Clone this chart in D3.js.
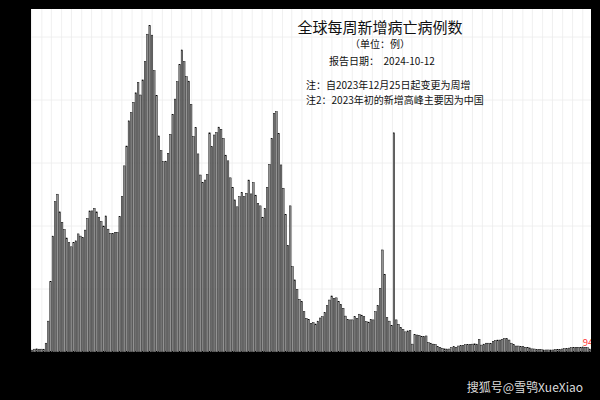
<!DOCTYPE html>
<html>
<head>
<meta charset="utf-8">
<script src="https://cdn.jsdelivr.net/npm/d3@7"></script>
<style>
  html, body { margin: 0; padding: 0; background: #000; }
  svg { display: block; }
  text { font-family: "Noto Sans CJK SC", "Noto Sans", sans-serif; }
</style>
</head>
<body>
<div id="chart"></div>
<script>
// 每周新增死亡数
const weeklyDeaths = [
  600, 900, 1000, 900, 900, 900, 2800, 9800, 22300, 36800,
  47700, 50100, 44500, 41200, 38900, 36200, 34700, 33400, 34800, 35300,
  37500, 36800, 36400, 38700, 42400, 44800, 44800, 45600, 44500, 42800,
  41400, 40000, 43200, 39000, 37700, 37700, 38000, 38000, 43000, 49300,
  59100, 65400, 73400, 76000, 79300, 82300, 85600, 81600, 86400, 92200,
  100900, 103600, 100600, 89300, 81400, 68600, 63900, 60400, 60600, 63100,
  69100, 75500, 80300, 85800, 91300, 95900, 92200, 87400, 86000, 78600,
  68400, 71200, 62900, 56200, 53800, 54600, 56400, 69600, 65200, 68900,
  69700, 71400, 70700, 67800, 62500, 60700, 55300, 52300, 48300, 46100,
  49300, 50700, 49300, 50400, 54600, 50200, 53800, 49800, 47200, 46400,
  42800, 45600, 52300, 59600, 67800, 75800, 76300, 69400, 59400, 52000,
  43700, 33900, 46400, 27100, 22900, 19900, 16700, 16000, 12800, 10700,
  10400, 9100, 9300, 8900, 9800, 10800, 11200, 12500, 14700, 16500,
  17800, 17000, 17200, 16000, 15100, 13900, 11400, 10400, 10200, 10200,
  11200, 10700, 12000, 11700, 11200, 9600, 9500, 10400, 10200, 12800,
  14700, 20200, 32400, 24700, 10900, 9800, 8500, 69600, 10200, 8800,
  7800, 7200, 6400, 6700, 6800, 2500, 5600, 5400, 5300, 4900,
  4900, 5100, 3000, 2800, 2500, 2400, 1700, 1500, 1200, 1000,
  950, 950, 1400, 1700, 1500, 1900, 2100, 2100, 2300, 2300,
  2400, 2500, 2600, 2500, 4000, 2200, 2500, 2800, 2800, 2800,
  3400, 3600, 3800, 3800, 4000, 4300, 4200, 3800, 2800, 2300,
  1900, 1900, 1700, 1700, 1500, 1400, 1300, 1000, 950, 850,
  850, 750, 650, 650, 650, 650, 650, 750, 850, 850,
  950, 1050, 1150, 1250, 1350, 1500, 1500, 1500, 1500, 1600,
  1500, 1350, 948
];
const firstWeek = new Date(2019, 11, 30);
const weekDates = weeklyDeaths.map((_, i) => d3.timeDay.offset(firstWeek, 7 * i));
const yTicks = [20000, 40000, 60000, 80000, 100000];

const titleText = '全球每周新增病亡病例数';
const unitText = '（单位：例）';
const dateText = '报告日期：  2024-10-12';
const noteLines = ['注：自2023年12月25日起变更为周增', '注2：2023年初的新增高峰主要因为中国'];
const watermark = '搜狐号@雪鸮XueXiao';

const width = 600, height = 400;
const margin = { top: 9, right: 9, bottom: 48, left: 31 };
const plotW = width - margin.left - margin.right;
const plotH = height - margin.top - margin.bottom;

const svg = d3.select('#chart').append('svg')
  .attr('width', width)
  .attr('height', height)
  .style('background', '#000');

svg.append('defs').append('clipPath')
  .attr('id', 'plot-clip')
  .append('rect')
  .attr('width', plotW)
  .attr('height', plotH);

const g = svg.append('g').attr('transform', `translate(${margin.left},${margin.top})`);

g.append('rect')
  .attr('width', plotW)
  .attr('height', plotH)
  .attr('fill', '#fff');

const lastDate = d3.timeDay.offset(weekDates[weekDates.length - 1], 7);
const x = d3.scaleTime().domain([firstWeek, lastDate]).range([0, plotW]);
const y = d3.scaleLinear().domain([0, 108900]).range([plotH, 0]);

// 网格：每月竖线，每两万横线
g.append('g')
  .selectAll('line')
  .data(x.ticks(d3.timeMonth.every(1)))
  .join('line')
  .attr('x1', d => x(d)).attr('x2', d => x(d))
  .attr('y1', 0).attr('y2', plotH)
  .attr('stroke', '#ececec')
  .attr('stroke-width', 0.8);

g.append('g')
  .selectAll('line')
  .data(yTicks)
  .join('line')
  .attr('x1', 0).attr('x2', plotW)
  .attr('y1', d => y(d)).attr('y2', d => y(d))
  .attr('stroke', '#ececec')
  .attr('stroke-width', 0.8);

const step = x(weekDates[1]) - x(weekDates[0]);
const barW = step * 0.7;

g.append('g')
  .selectAll('rect')
  .data(weeklyDeaths)
  .join('rect')
  .attr('x', (d, i) => x(weekDates[i]) + (step - barW) / 2)
  .attr('y', d => y(d))
  .attr('width', barW)
  .attr('height', d => plotH - y(d))
  .attr('fill', '#939393')
  .attr('stroke', '#000')
  .attr('stroke-width', 0.45);

// 最后一周的数值（被绘图区裁切）
const lastIdx = weeklyDeaths.length - 1;
g.append('text')
  .attr('clip-path', 'url(#plot-clip)')
  .attr('x', x(weekDates[lastIdx]) - 6)
  .attr('y', y(weeklyDeaths[lastIdx]) - 3)
  .attr('fill', '#ff3030')
  .attr('font-size', 9.5)
  .attr('font-family', 'DejaVu Sans Mono, monospace')
  .text(weeklyDeaths[lastIdx]);

// 标题与注释
const cx = 380;
svg.append('text')
  .attr('x', cx).attr('y', 33)
  .attr('text-anchor', 'middle')
  .attr('font-size', 15)
  .attr('fill', '#111')
  .text(titleText);

svg.append('text')
  .attr('x', cx).attr('y', 48)
  .attr('text-anchor', 'middle')
  .attr('font-size', 10)
  .attr('fill', '#111')
  .text(unitText);

svg.append('text')
  .attr('x', 382).attr('y', 65)
  .attr('text-anchor', 'middle')
  .attr('font-size', 10)
  .attr('fill', '#111')
  .style('white-space', 'pre')
  .text(dateText);

svg.append('g')
  .selectAll('text')
  .data(noteLines)
  .join('text')
  .attr('x', 306)
  .attr('y', (d, i) => 89 + i * 15)
  .attr('font-size', 10)
  .attr('fill', '#111')
  .text(d => d);

svg.append('text')
  .attr('x', 583).attr('y', 392)
  .attr('text-anchor', 'end')
  .attr('font-size', 12)
  .attr('fill', '#dcdcdc')
  .text(watermark);
</script>
</body>
</html>
